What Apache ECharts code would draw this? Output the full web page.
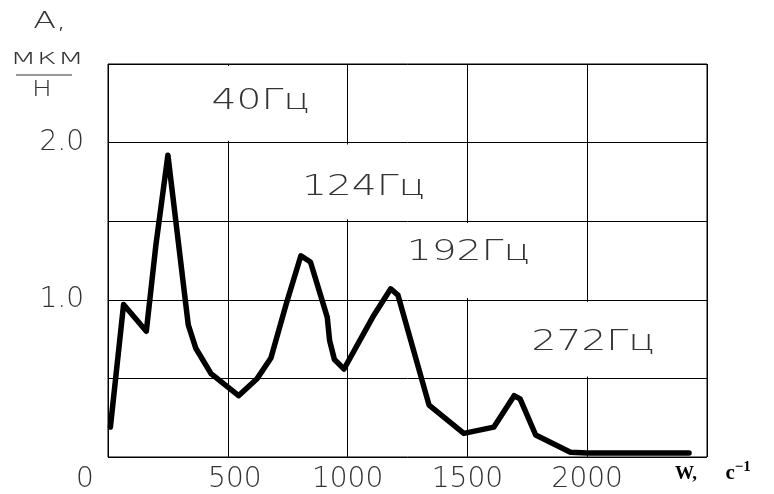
<!DOCTYPE html>
<html>
<head>
<meta charset="utf-8">
<script src="https://cdn.jsdelivr.net/npm/echarts@6/dist/echarts.min.js"></script>
<style>
html,body{margin:0;padding:0;background:#fff;}
#chart{width:774px;height:494px;}
</style>
</head>
<body>
<div id="chart"></div>
<script>
// ---- data ----
const wValues = [10, 65, 160, 200, 250, 335, 367, 430, 545, 623, 680, 745, 805, 845, 915, 925, 945, 985, 1105, 1180, 1210, 1340, 1485, 1610, 1695, 1720, 1785, 1930, 2000, 2425];
const aValues = [0.19, 0.97, 0.80, 1.35, 1.92, 0.84, 0.69, 0.53, 0.39, 0.50, 0.63, 0.98, 1.28, 1.24, 0.89, 0.74, 0.62, 0.56, 0.89, 1.07, 1.03, 0.33, 0.15, 0.19, 0.39, 0.37, 0.14, 0.03, 0.025, 0.025];

const xTickLabels = ['0', '500', '1000', '1500', '2000', ''];
const yTickLabels = ['', '', '1.0', '', '2.0', ''];

const cellLabels = ['40Гц', '124Гц', '192Гц', '272Гц'];
const cellW = [[0, 1000], [500, 1500], [1000, 2000], [1500, 2500]];
const cellA = [[2.0, 2.5], [1.5, 2.0], [1.0, 1.5], [0.5, 1.0]];

const yTitleTop = 'A,';
const yTitleNum = 'мкм';
const yTitleDen = 'Н';
const xTitleW = 'W,';
const xTitleUnit = 'с';
const xTitleExp = '−1';

// ---- styles ----
const labelOffsets = [[33, -2], [16, 6], [1, -8], [6, 4]];
const thinFont = 'DejaVu Sans';
const textColor = '#333';
const fs = 28;
const gap = '\u00a0\u00a0\u00a0\u00a0\u00a0\u00a0';

const lineData = wValues.map((w, i) => [w, aValues[i]]);

const areas = cellLabels.map((t, i) => [
  { coord: [cellW[i][0] + 8, cellA[i][0] + 0.012] },
  { coord: [cellW[i][1] - 8, cellA[i][1] - 0.012] }
]);

const chart = echarts.init(document.getElementById('chart'));
const baseGraphic = [
  { id: 'yt1', type: 'text', x: 50, y: 22, scaleX: 1.45, style: { text: yTitleTop, x: 0, y: 0, align: 'center', verticalAlign: 'middle', fontFamily: thinFont, fontWeight: 200, fontSize: 23, fill: textColor } },
  { id: 'yt2', type: 'text', x: 47, y: 58, scaleX: 1.6, style: { text: yTitleNum, x: 0, y: 0, align: 'center', verticalAlign: 'middle', fontFamily: thinFont, fontWeight: 200, fontSize: 22, fill: textColor } },
  { id: 'yt3', type: 'line', shape: { x1: 16, y1: 75, x2: 72, y2: 75 }, style: { stroke: '#333', lineWidth: 1.2 } },
  { id: 'yt4', type: 'text', x: 42, y: 90, scaleX: 1.2, style: { text: yTitleDen, x: 0, y: 0, align: 'center', verticalAlign: 'middle', fontFamily: thinFont, fontWeight: 200, fontSize: 22, fill: textColor } }
];

chart.setOption({
  animation: false,
  backgroundColor: '#fff',
  grid: {
    left: 108, right: 67, top: 64, bottom: 37,
    show: true, borderColor: '#000', borderWidth: 1, backgroundColor: 'transparent'
  },
  xAxis: {
    type: 'value', min: 0, max: 2500, interval: 500,
    axisLine: { show: false }, axisTick: { show: false },
    splitLine: { show: true, lineStyle: { color: '#000', width: 1 } },
    axisLabel: {
      show: true, showMinLabel: true, showMaxLabel: true, margin: 9,
      fontFamily: thinFont, fontSize: fs, fontWeight: 200, color: textColor,
      formatter: (v) => {
        const i = Math.round(v / 500);
        return i === 0 ? '{z|' + xTickLabels[0] + '}' : i === 1 ? '{f|' + xTickLabels[1] + '}' : xTickLabels[i];
      },
      rich: {
        z: { fontFamily: thinFont, fontSize: fs, fontWeight: 200, color: textColor, padding: [0, 46, 0, 0] },
        f: { fontFamily: thinFont, fontSize: fs, fontWeight: 200, color: textColor, padding: [0, 0, 0, 14] }
      }
    },
    name: '{w|' + xTitleW + gap + '}{c|' + xTitleUnit + '}{s|' + xTitleExp + '}',
    nameLocation: 'end',
    nameGap: -32,
    nameTextStyle: {
      align: 'left', verticalAlign: 'top', padding: [3, 0, 0, 0],
      rich: {
        w: { fontFamily: 'Liberation Serif', fontWeight: 'bold', fontSize: 19, color: '#000', verticalAlign: 'bottom', lineHeight: 24 },
        c: { fontFamily: 'Liberation Serif', fontWeight: 'bold', fontSize: 21, color: '#000', verticalAlign: 'bottom', lineHeight: 24 },
        s: { fontFamily: 'Liberation Serif', fontWeight: 'bold', fontSize: 15, color: '#000', verticalAlign: 'top', lineHeight: 24 }
      }
    }
  },
  yAxis: {
    type: 'value', min: 0, max: 2.5, interval: 0.5,
    axisLine: { show: false }, axisTick: { show: false },
    splitLine: { show: true, lineStyle: { color: '#000', width: 1 } },
    axisLabel: {
      show: true, margin: 24,
      fontFamily: thinFont, fontSize: fs, fontWeight: 200, color: textColor,
      formatter: (v) => yTickLabels[Math.round(v / 0.5)]
    }
  },
  graphic: baseGraphic,
  series: [
    {
      type: 'line', z: 1, data: [], silent: true,
      markArea: {
        silent: true,
        itemStyle: { color: '#fff', opacity: 1 },
        label: { show: false },
        data: areas
      }
    },
    {
      type: 'line', z: 5, data: lineData,
      showSymbol: false, symbol: 'none',
      lineStyle: { color: '#000', width: 5.5, cap: 'round', join: 'round' }
    }
  ]
});

// cell captions placed through the chart's own scales (cell centres)
const cellTexts = cellLabels.map((t, i) => {
  const c = chart.convertToPixel({ gridIndex: 0 }, [(cellW[i][0] + cellW[i][1]) / 2, (cellA[i][0] + cellA[i][1]) / 2]);
  return {
    id: 'cell' + i, type: 'text', z: 3,
    x: c[0] + labelOffsets[i][0], y: c[1] + labelOffsets[i][1], scaleX: 1.4,
    style: { text: t, x: 0, y: 0, align: 'center', verticalAlign: 'middle', fontFamily: thinFont, fontWeight: 200, fontSize: fs, fill: textColor }
  };
});
chart.setOption({ graphic: baseGraphic.concat(cellTexts) });
</script>
</body>
</html>
